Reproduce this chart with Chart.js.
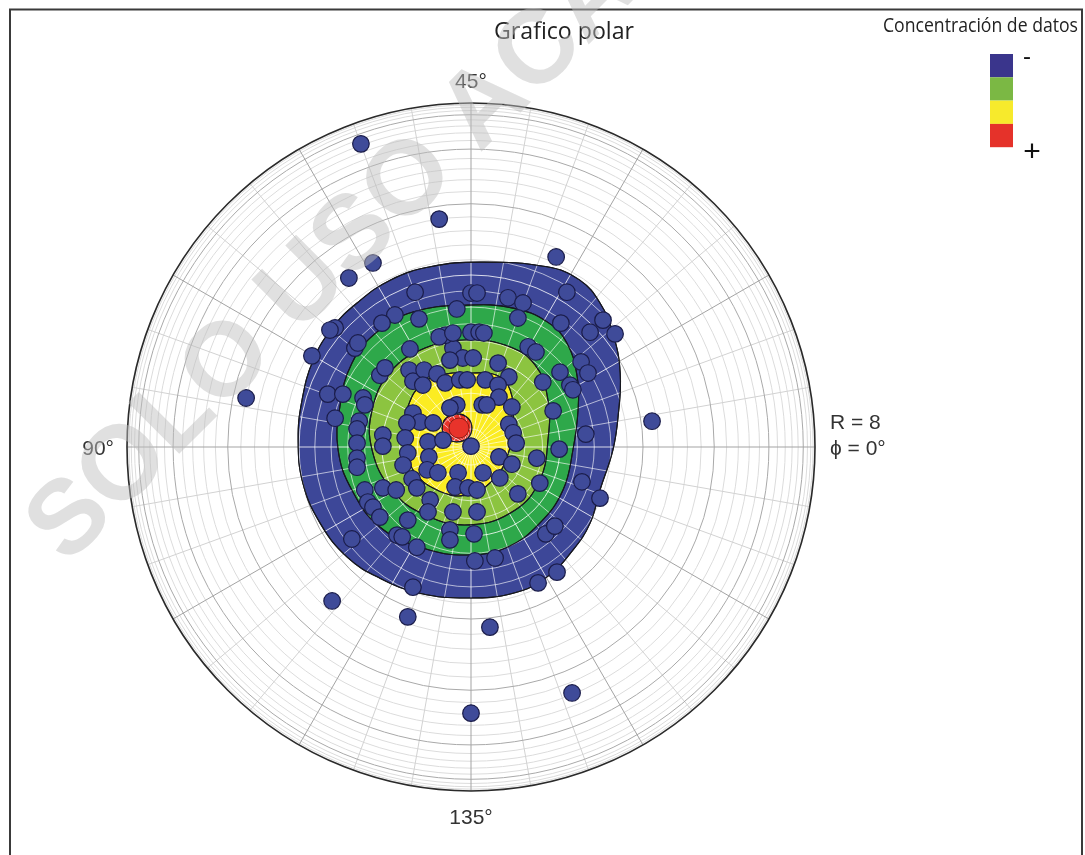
<!DOCTYPE html>
<html>
<head>
<meta charset="utf-8">
<script src="https://cdn.jsdelivr.net/npm/chart.js@4.4.1/dist/chart.umd.min.js"></script>
<style>
  html, body { margin: 0; padding: 0; background: #ffffff; overflow: hidden; }
  canvas { display: block; }
</style>
</head>
<body>
<canvas id="polar" width="1085" height="855"></canvas>
<script>
// ---- data (cartesian positions in R units, R = 8 at the rim) ----
const R_MAX = 8;

const sampleX = [
  -2.56, -0.74, 1.98, -2.28, -2.84, -5.23, 4.21, -3.23, -1.47, 0.44, 2.35, 0.00, -1.35, 1.56, 2.00,
  -1.30, 0.00, 0.14, 0.86, 1.21, 2.23, -0.33, -1.21, 1.09, -1.77, -2.07, -3.16, -3.28, 3.07, 2.77,
  3.35, 2.09, -3.70, -2.70, -2.63, -1.42, -0.42, -0.19, 0.05, -0.49, 0.63, 1.33, 1.51, 2.56, 2.72,
  2.07, 2.30, 2.37, 1.67, 0.88, -2.12, -2.00, -1.44, -1.35, -1.09, -0.79, -0.60, -1.12, -0.26, -0.09,
  0.33, 0.63, 0.65, 0.26, 0.37, -0.33, -0.49, 0.95, -1.35, -1.19, -0.88, -1.49, -3.33, -2.98, -2.51,
  -2.47, -3.16, -2.60, -2.65, -2.65, -2.65, -2.65, -2.05, -2.05, -1.53, -1.00, -0.98, -0.65, 0.00, -1.47,
  -1.58, 0.88, 0.98, 1.05, 1.91, 2.05, 2.67, 1.53, 0.65, 0.95, -1.02, -0.77, -0.30, 0.28, 0.67,
  1.60, 2.58, 3.00, 1.09, -2.47, -2.40, -2.28, -2.05, -1.74, -1.37, -1.26, -0.95, -1.00, -0.37, -0.07,
  0.14, -0.42, 0.14, -2.12, -1.47, -0.49, -0.49, 0.07, -1.72, -1.60, -2.77, -1.26, 1.74, 1.95, 0.09,
  0.56, -0.60, -0.74, -0.42, 0.00, 0.19, 0.30
];
const sampleY = [
  7.05, 5.30, 4.42, 4.28, 3.93, 1.14, 0.60, -3.58, -3.95, -4.19, -5.72, -6.19, -3.26, -3.16, -2.91,
  3.60, 3.58, 3.58, 3.47, 3.35, 3.60, 3.21, 2.98, 3.00, 3.07, 2.88, 2.77, 2.72, 2.95, 2.67,
  2.63, 2.88, 2.12, 2.30, 2.42, 2.28, 2.30, 2.07, 2.07, 2.02, 1.95, 2.33, 2.21, 1.98, 1.72,
  1.74, 1.44, 1.33, 1.51, 1.63, 1.67, 1.84, 1.79, 1.53, 1.79, 1.70, 1.49, 1.44, 1.56, 1.56,
  1.56, 1.44, 1.16, 0.98, 0.98, 0.98, 0.91, 0.93, 0.79, 0.58, 0.56, 0.56, 1.23, 1.23, 1.14,
  0.98, 0.67, 0.60, 0.42, 0.09, -0.26, -0.47, 0.28, 0.02, 0.21, 0.12, -0.23, 0.16, 0.02, -0.14,
  -0.42, 0.53, 0.33, 0.09, 0.84, -0.05, 0.30, -0.26, -0.23, -0.40, -0.53, -0.60, -0.60, -0.60, -0.72,
  -0.84, -0.81, -1.19, -1.09, -1.00, -1.28, -1.40, -0.95, -1.00, -0.74, -0.95, -1.23, -1.51, -0.93, -0.95,
  -1.00, -1.51, -1.51, -1.63, -1.70, -1.93, -2.16, -2.02, -2.05, -2.09, -2.14, -2.33, -2.02, -1.84, -2.65,
  -2.58, 2.60, 2.56, 2.65, 2.67, 2.67, 2.65
];

// density maximum
const peakX = [-0.28];
const peakY = [0.44];

// density contours (closed boundaries, outermost first)
const blueX = [0.21, 1.77, 2.53, 3.00, 3.30, 3.47, 3.42, 3.30, 3.00, 2.77, 2.37, 1.77, 0.98, -0.09, -1.19, -2.12, -2.88, -3.51, -3.91, -4.02, -3.93, -3.67, -3.21, -2.65, -1.88, -0.95];
const blueY = [4.30, 4.19, 3.88, 3.35, 2.65, 1.72, 0.70, -0.07, -1.00, -1.77, -2.40, -3.02, -3.40, -3.51, -3.40, -3.05, -2.56, -1.77, -0.84, 0.16, 1.09, 2.02, 2.79, 3.35, 3.88, 4.19];

const greenX = [-0.09, 0.98, 1.77, 2.23, 2.47, 2.49, 2.37, 2.14, 1.60, 0.84, -0.09, -1.12, -2.12, -2.77, -3.09, -3.05, -2.77, -2.19, -1.35];
const greenY = [3.30, 3.23, 2.91, 2.42, 1.63, 0.86, -0.07, -1.00, -1.77, -2.33, -2.51, -2.35, -1.86, -1.00, -0.07, 0.93, 1.95, 2.67, 3.14];

const limeX = [-0.14, 0.79, 1.49, 1.79, 1.79, 1.60, 1.02, -0.02, -1.07, -1.84, -2.30, -2.30, -1.88, -1.07];
const limeY = [2.49, 2.37, 1.91, 1.09, 0.16, -0.77, -1.47, -1.81, -1.58, -1.00, -0.07, 0.86, 1.74, 2.30];

const yellowX = [-0.09, 0.60, 0.91, 0.98, 0.84, 0.51, -0.09, -0.79, -1.35, -1.58, -1.47, -1.12, -0.56];
const yellowY = [1.72, 1.67, 1.33, 0.56, -0.23, -0.77, -1.12, -1.00, -0.53, 0.23, 0.93, 1.49, 1.70];

const redX = [-0.33, -0.07, 0.02, -0.07, -0.33, -0.58, -0.67, -0.58];
const redY = [0.77, 0.67, 0.44, 0.21, 0.12, 0.21, 0.44, 0.67];

// polar grid: ring inclinations (deg, radius = R·sinθ) and spokes (deg)
const ringAngles = [3, 6, 9, 12, 15, 18, 21, 24, 27, 30, 33, 36, 39, 42, 45, 48, 51, 54, 57, 60, 63, 66, 69, 72, 75, 78, 81, 84, 87];
const majorRingAngles = [15, 30, 45, 60, 75];
const spokeStep = 10;
const majorSpokeStep = 30;

// axis captions
const azimuthLabels = ['45°', '90°', '135°'];
const originLabels = ['R = 8', 'ϕ = 0°'];

// legend
const legendTitle = 'Concentración de datos';
const legendColors = ['#3a358c', '#7bb844', '#f7ea2c', '#e5322a'];
const legendEnds = ['-', '+'];

const chartTitle = 'Grafico polar';
const stampText = 'SOLO USO ACADÉMICO';

// ---- chart ----
const toPoints = (xs, ys) => xs.map((x, i) => ({ x, y: ys[i] }));

function contour(label, xs, ys, color, order) {
  return {
    type: 'line', label, data: toPoints(xs, ys), order,
    backgroundColor: color, borderColor: '#17181f', borderWidth: 1.1,
    fill: 'shape', tension: 0.42, pointRadius: 0, pointHoverRadius: 0,
    isContour: true
  };
}

function geometry(chart) {
  const sx = chart.scales.x, sy = chart.scales.y;
  const cx = sx.getPixelForValue(0), cy = sy.getPixelForValue(0);
  const unit = sx.getPixelForValue(1) - cx;
  return { cx, cy, R: unit * R_MAX };
}

function strokeGrid(ctx, g, minorRing, majorRing, minorSpoke, majorSpoke) {
  ctx.lineWidth = 1;
  const rad = d => d * Math.PI / 180;
  const ring = (t) => { ctx.beginPath(); ctx.arc(g.cx, g.cy, g.R * Math.sin(rad(t)), 0, Math.PI * 2); ctx.stroke(); };
  const spoke = (a) => {
    ctx.beginPath();
    ctx.moveTo(g.cx, g.cy);
    ctx.lineTo(g.cx + g.R * Math.cos(rad(a)), g.cy - g.R * Math.sin(rad(a)));
    ctx.stroke();
  };
  ctx.strokeStyle = minorRing;
  ringAngles.filter(t => !majorRingAngles.includes(t)).forEach(ring);
  ctx.strokeStyle = minorSpoke;
  for (let a = 0; a < 360; a += spokeStep) if (a % majorSpokeStep) spoke(a);
  ctx.strokeStyle = majorRing;
  majorRingAngles.forEach(ring);
  ctx.strokeStyle = majorSpoke;
  for (let a = 0; a < 360; a += majorSpokeStep) spoke(a);
}

const polarFrame = {
  id: 'polarFrame',
  afterDatasetsUpdate(chart) {
    chart.data.datasets.forEach((ds, i) => {
      if (!ds.isContour) return;
      const line = chart.getDatasetMeta(i).dataset;
      line._loop = true;
      line._fullLoop = true;
      line._pointsUpdated = false;
      line._segments = undefined;
      line._path = undefined;
    });
  },
  beforeDatasetsDraw(chart) {
    const ctx = chart.ctx, g = geometry(chart);
    ctx.save();
    strokeGrid(ctx, g, '#dcdcdc', '#a9a9a9', '#d2d2d2', '#a3a3a3');
    ctx.restore();
  },
  afterDatasetDraw(chart, args) {
    const ds = chart.data.datasets[args.index];
    if (!ds.gridOverlay) return;
    const ctx = chart.ctx, g = geometry(chart);
    const outer = chart.getDatasetMeta(chart.data.datasets.findIndex(d => d.label === 'blue')).dataset;
    ctx.save();
    ctx.beginPath();
    outer.path(ctx);
    ctx.closePath();
    ctx.clip();
    strokeGrid(ctx, g, 'rgba(255,255,255,0.62)', 'rgba(255,255,255,0.8)', 'rgba(255,255,255,0.62)', 'rgba(255,255,255,0.8)');
    ctx.restore();
    // contour outlines above the overlay
    ctx.save();
    chart.data.datasets.forEach((d, i) => {
      if (!d.isContour) return;
      const ln = chart.getDatasetMeta(i).dataset;
      ctx.beginPath();
      ln.path(ctx);
      ctx.closePath();
      ctx.strokeStyle = '#17181f';
      ctx.lineWidth = 1.1;
      ctx.stroke();
    });
    // rim
    ctx.beginPath();
    ctx.arc(g.cx, g.cy, g.R, 0, Math.PI * 2);
    ctx.strokeStyle = '#2a2a2a';
    ctx.lineWidth = 1.6;
    ctx.stroke();
    ctx.restore();
  },
  afterDraw(chart) {
    const ctx = chart.ctx, g = geometry(chart);
    ctx.save();
    // outer frame
    ctx.strokeStyle = '#3a3a3a';
    ctx.lineWidth = 2;
    ctx.strokeRect(10, 9.5, 1072, 900);

    // title
    ctx.fillStyle = '#222';
    ctx.textAlign = 'center';
    ctx.textBaseline = 'alphabetic';
    ctx.font = '24px "Open Sans", "Noto Sans", sans-serif';
    ctx.fillText(chartTitle, 564, 39, 140);

    // azimuth captions
    ctx.fillStyle = '#333';
    ctx.font = '21px "Liberation Sans", Arial, sans-serif';
    ctx.textAlign = 'center';
    ctx.fillText(azimuthLabels[0], g.cx, g.cy - g.R - 15);
    ctx.fillText(azimuthLabels[2], g.cx, g.cy + g.R + 33);
    ctx.textAlign = 'right';
    ctx.fillText(azimuthLabels[1], g.cx - g.R - 13, g.cy + 8);
    ctx.textAlign = 'left';
    ctx.fillText(originLabels[0], g.cx + g.R + 15, g.cy - 18);
    ctx.fillText(originLabels[1], g.cx + g.R + 15, g.cy + 8);

    // legend
    ctx.fillStyle = '#222';
    ctx.textAlign = 'right';
    ctx.font = '20px "Open Sans", "Noto Sans", sans-serif';
    ctx.fillText(legendTitle, 1078, 32, 195);
    const lx = 990, ly = 54, lw = 23, lh = 23.3;
    legendColors.forEach((c, i) => { ctx.fillStyle = c; ctx.fillRect(lx, ly + i * lh, lw, lh); });
    ctx.fillStyle = '#111';
    ctx.textAlign = 'center';
    ctx.font = '24px "Liberation Sans", Arial, sans-serif';
    ctx.fillText(legendEnds[0], 1027, 64);
    ctx.font = '30px "Liberation Sans", Arial, sans-serif';
    ctx.fillText(legendEnds[1], 1032, 161);

    // stamp across the sheet
    ctx.translate(67, 566);
    ctx.rotate(-45 * Math.PI / 180);
    ctx.textAlign = 'left';
    ctx.font = 'bold 105px "Liberation Sans", Arial, sans-serif';
    ctx.fillStyle = 'rgba(190,190,190,0.48)';
    ctx.fillText(stampText, 0, 0);
    ctx.restore();
  }
};

new Chart(document.getElementById('polar'), {
  type: 'scatter',
  data: {
    datasets: [
      contour('blue', blueX, blueY, '#3d4798', 6),
      contour('green', greenX, greenY, '#2ea84a', 5),
      contour('lime', limeX, limeY, '#8cc440', 4),
      contour('yellow', yellowX, yellowY, '#fbec22', 3),
      Object.assign(contour('red', redX, redY, '#e8352b', 2), { gridOverlay: true }),
      {
        label: 'datos', data: toPoints(sampleX, sampleY), order: 1,
        pointRadius: 8.3, backgroundColor: '#3f4b99', borderColor: '#1b1d4a', borderWidth: 1.2
      },
      {
        label: 'máximo', data: toPoints(peakX, peakY), order: 0,
        pointRadius: 10, backgroundColor: '#e8332b', borderColor: '#8f1a14', borderWidth: 1
      }
    ]
  },
  options: {
    responsive: false,
    animation: false,
    devicePixelRatio: 1,
    layout: { padding: { left: 127, right: 270, top: 103, bottom: 64 } },
    scales: {
      x: { type: 'linear', min: -R_MAX, max: R_MAX, display: false },
      y: { type: 'linear', min: -R_MAX, max: R_MAX, display: false }
    },
    plugins: { legend: { display: false }, tooltip: { enabled: false } },
    events: []
  },
  plugins: [polarFrame]
});
</script>
</body>
</html>
